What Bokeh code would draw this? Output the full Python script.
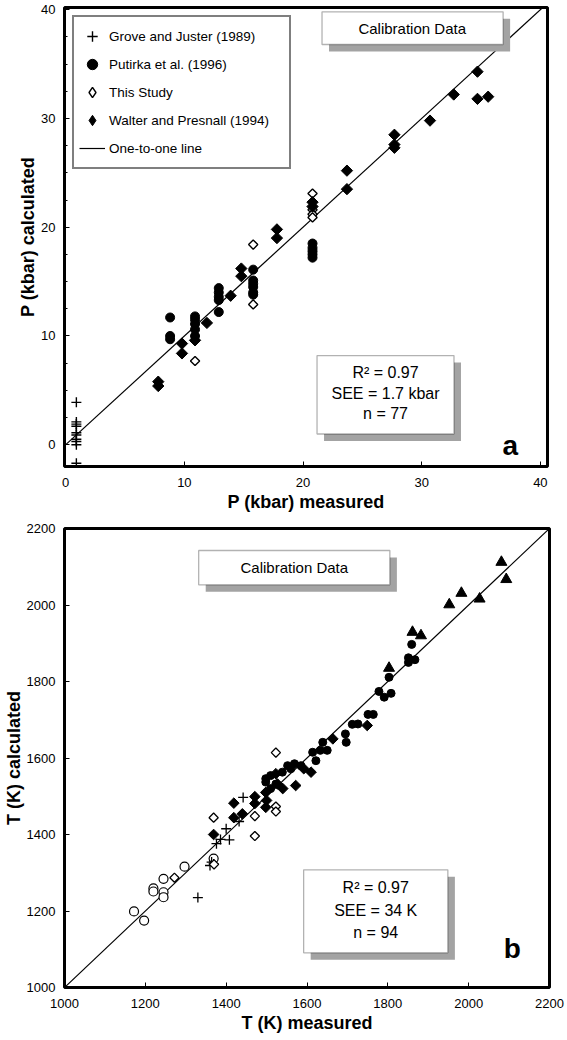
import math
from bokeh.plotting import figure
from bokeh.layouts import column
from bokeh.models import Range1d, FixedTicker, Label, BoxAnnotation, Legend, LegendItem
from bokeh.embed import file_html
from bokeh.resources import INLINE

FONT = "Liberation Sans"
NAN = float("nan")

# ---------------- Panel a: pressure (kbar) ----------------
grove_p_meas = [0.9, 0.9, 0.9, 0.9, 0.9, 0.9, 0.9, 0.9, 0.9, 0.9]
grove_p_calc = [3.9, 2.1, 1.9, 1.7, 1.1, 0.9, 0.5, 0.3, 0.0, -1.7]

putirka_p_meas = [8.8, 8.8, 8.8, 10.9, 10.9, 10.9, 10.9, 10.9, 12.9, 12.9, 12.9, 12.9, 12.9,
                  15.8, 15.8, 15.8, 15.8, 15.8, 15.8, 20.8, 20.8, 20.8, 20.8, 20.8]
putirka_p_calc = [11.7, 10.0, 9.7, 11.8, 11.5, 11.1, 10.6, 10.0, 14.4, 14.0, 13.6, 13.3, 12.2,
                  16.1, 15.1, 14.8, 14.5, 14.0, 13.8, 18.5, 18.1, 17.8, 17.5, 17.2]

study_p_meas = [10.9, 15.8, 15.8, 20.8, 20.8, 20.8, 20.8]
study_p_calc = [7.7, 18.4, 12.9, 23.1, 21.6, 21.2, 20.9]

walter_p_meas = [7.8, 7.8, 9.8, 9.8, 10.9, 11.9, 13.9, 14.8, 14.8, 17.8, 17.8, 20.8, 20.8,
                 23.7, 23.7, 27.7, 27.7, 27.7, 30.7, 32.7, 34.7, 34.7, 35.6]
walter_p_calc = [5.8, 5.4, 9.3, 8.4, 9.6, 11.2, 13.7, 16.2, 15.5, 19.8, 19.0, 22.3, 21.9,
                 25.2, 23.5, 28.5, 27.6, 27.3, 29.8, 32.2, 34.3, 31.8, 32.0]

one_p = [-2, 42]
p_ticks = [0, 10, 20, 30, 40]
p_minor = [2.5, 5, 7.5, 12.5, 15, 17.5, 22.5, 25, 27.5, 32.5, 35, 37.5]

# ---------------- Panel b: temperature (K) ----------------
grove_t_meas = [1330, 1360, 1364, 1369, 1376, 1386, 1400, 1408, 1432, 1442]
grove_t_calc = [1235, 1319, 1328, 1323, 1376, 1387, 1415, 1386, 1434, 1497]

ocirc_t_meas = [1172, 1197, 1220, 1220, 1245, 1245, 1245, 1297, 1369]
ocirc_t_calc = [1199, 1175, 1259, 1251, 1284, 1249, 1236, 1316, 1337]

study_t_meas = [1272, 1369, 1370, 1471, 1471, 1523, 1523, 1523]
study_t_calc = [1287, 1444, 1322, 1396, 1448, 1473, 1460, 1614]

walter_t_meas = [1369, 1419, 1419, 1440, 1471, 1471, 1498, 1500, 1498, 1523, 1527, 1540,
                 1572, 1592, 1610, 1664, 1749]
walter_t_calc = [1400, 1482, 1444, 1454, 1499, 1481, 1510, 1489, 1471, 1559, 1532, 1520,
                 1528, 1572, 1563, 1650, 1685]

putirka_t_meas = [1498, 1510, 1523, 1539, 1552, 1560, 1569, 1585, 1614, 1622, 1633, 1639,
                  1650, 1695, 1697, 1712, 1726, 1751, 1764, 1778, 1791, 1808, 1803, 1851,
                  1851, 1867, 1859, 1498, 1510]
putirka_t_calc = [1537, 1554, 1532, 1563, 1580, 1572, 1585, 1580, 1615, 1593, 1620, 1641,
                  1620, 1663, 1641, 1688, 1689, 1714, 1714, 1774, 1759, 1769, 1811, 1862,
                  1850, 1857, 1897, 1546, 1520]

tri_t_meas = [1803, 1861, 1882, 1952, 1982, 2027, 2081, 2093]
tri_t_calc = [1835, 1929, 1920, 2001, 2031, 2016, 2112, 2067]

one_t = [900, 2300]
t_ticks = [1000, 1200, 1400, 1600, 1800, 2000, 2200]

DIAMOND = math.pi / 4


def make_fig(xr, yr, fw, fh, ml, mr, mt, mb, xlabel, ylabel):
    p = figure(frame_width=fw, frame_height=fh, x_range=Range1d(*xr), y_range=Range1d(*yr),
               output_backend="svg", toolbar_location=None,
               min_border_left=ml, min_border_right=mr,
               min_border_top=mt, min_border_bottom=mb)
    p.grid.visible = False
    p.outline_line_color = "black"
    p.outline_line_width = 3
    p.outline_line_alpha = 1
    p.background_fill_color = "white"
    p.border_fill_color = "white"
    for ax in (p.xaxis[0], p.yaxis[0]):
        ax.axis_line_color = None
        ax.major_tick_in = 5
        ax.major_tick_out = 0
        ax.minor_tick_in = 3
        ax.minor_tick_out = 0
        ax.major_tick_line_color = "black"
        ax.minor_tick_line_color = "black"
        ax.major_label_text_font = FONT
        ax.major_label_text_font_size = "13px"
        ax.major_label_text_color = "black"
        ax.axis_label_text_font = FONT
        ax.axis_label_text_font_size = "18px"
        ax.axis_label_text_font_style = "bold"
        ax.axis_label_text_color = "black"
    p.xaxis.major_label_standoff = 11
    p.yaxis.major_label_standoff = 9
    p.xaxis.axis_label = xlabel
    p.yaxis.axis_label = ylabel
    p.xaxis.axis_label_standoff = 2
    p.yaxis.axis_label_standoff = 0
    return p


def add_text(p, x, y, text, size, style="normal"):
    p.add_layout(Label(x=x, y=y, text=text, text_font=FONT, text_font_size=size,
                       text_font_style=style, text_align="center", text_baseline="middle",
                       text_color="black"))


def shadow_box(p, l, r, t, b, dx, dy):
    p.add_layout(BoxAnnotation(left=l + dx, right=r + dx, top=t - dy, bottom=b - dy,
                               fill_color="#a3a3a3", fill_alpha=1, line_color=None))
    p.add_layout(BoxAnnotation(left=l, right=r, top=t, bottom=b,
                               fill_color="white", fill_alpha=1,
                               line_color="black", line_width=1.3))


# ================= Panel a =================
p1 = make_fig((-0.1, 40.6), (-2.0, 40.2), 483, 459, 60, 19, 7, 54,
              "P (kbar) measured", "P (kbar) calculated")
p1.xaxis.ticker = FixedTicker(ticks=p_ticks)
p1.yaxis.ticker = FixedTicker(ticks=p_ticks, minor_ticks=p_minor)

r_line1 = p1.line(one_p, one_p, line_color="black", line_width=1.2)
r_grove1 = p1.scatter(grove_p_meas, grove_p_calc, marker="cross", size=10,
                      line_color="black", line_width=1.4)
r_put1 = p1.scatter(putirka_p_meas, putirka_p_calc, marker="circle", size=9,
                    fill_color="black", line_color="black")
p1.scatter(study_p_meas, study_p_calc, marker="square", angle=DIAMOND, size=6.5,
           fill_color="white", line_color="black", line_width=1.4)
p1.scatter(walter_p_meas, walter_p_calc, marker="square", angle=DIAMOND, size=8,
           fill_color="black", line_color="black")
# legend swatches for the diamond series (NaN position: nothing is drawn on the plot)
r_study_key = p1.scatter([NAN], [NAN], marker="diamond", size=10,
                         fill_color="white", line_color="black", line_width=1.4)
r_walt_key = p1.scatter([NAN], [NAN], marker="diamond", size=12,
                        fill_color="black", line_color="black")

legend = Legend(items=[
    LegendItem(label="Grove and Juster (1989)", renderers=[r_grove1]),
    LegendItem(label="Putirka et al. (1996)", renderers=[r_put1]),
    LegendItem(label="This Study", renderers=[r_study_key]),
    LegendItem(label="Walter and Presnall (1994)", renderers=[r_walt_key]),
    LegendItem(label="One-to-one line", renderers=[r_line1]),
], location="top_left")
legend.margin = 8
legend.padding = 5
legend.spacing = 0
legend.glyph_height = 28
legend.glyph_width = 26
legend.label_height = 28
legend.label_width = 175
legend.label_standoff = 4
legend.label_text_font = FONT
legend.label_text_font_size = "13.5px"
legend.label_text_color = "black"
legend.border_line_color = "black"
legend.border_line_width = 2
legend.background_fill_color = "white"
legend.background_fill_alpha = 1
p1.add_layout(legend)

shadow_box(p1, 21.6, 36.86, 39.8, 36.8, 0.59, 0.64)
add_text(p1, 29.2, 38.3, "Calibration Data", "15px")
shadow_box(p1, 21.18, 32.72, 8.2, 0.99, 0.59, 0.64)
add_text(p1, 26.95, 6.66, "R\u00b2 = 0.97", "16px")
add_text(p1, 26.95, 4.67, "SEE = 1.7 kbar", "16px")
add_text(p1, 26.95, 2.83, "n = 77", "16px")
add_text(p1, 37.47, -0.1, "a", "28px", style="bold")

# ================= Panel b =================
p2 = make_fig((1000, 2200), (1000, 2200), 485, 459, 60, 17, 8, 53,
              "T (K) measured", "T (K) calculated")
p2.xaxis.ticker = FixedTicker(ticks=t_ticks)
p2.yaxis.ticker = FixedTicker(ticks=t_ticks)

p2.line(one_t, one_t, line_color="black", line_width=1.2)
p2.scatter(ocirc_t_meas, ocirc_t_calc, marker="circle", size=9,
           fill_color="white", line_color="black", line_width=1.2)
p2.scatter(grove_t_meas, grove_t_calc, marker="cross", size=10,
           line_color="black", line_width=1.3)
p2.scatter(study_t_meas, study_t_calc, marker="square", angle=DIAMOND, size=6.5,
           fill_color="white", line_color="black", line_width=1.3)
p2.scatter(walter_t_meas, walter_t_calc, marker="square", angle=DIAMOND, size=7.5,
           fill_color="black", line_color="black")
p2.scatter(putirka_t_meas, putirka_t_calc, marker="circle", size=8,
           fill_color="black", line_color="black")
p2.scatter(tri_t_meas, tri_t_calc, marker="triangle", size=11,
           fill_color="black", line_color="black")

shadow_box(p2, 1332, 1805, 2142.5, 2052.8, 17.4, 18.3)
add_text(p2, 1568.6, 2098, "Calibration Data", "15px")
shadow_box(p2, 1591.7, 1948.5, 1307.7, 1090.7, 17.4, 18.3)
add_text(p2, 1770, 1262.2, "R\u00b2 = 0.97", "16px")
add_text(p2, 1770, 1201.3, "SEE = 34 K", "16px")
add_text(p2, 1770, 1144.6, "n = 94", "16px")
add_text(p2, 2107.8, 1101.2, "b", "28px", style="bold")

layout = column(p1, p2, spacing=0)
open("out.html", "w").write(file_html(layout, INLINE))
